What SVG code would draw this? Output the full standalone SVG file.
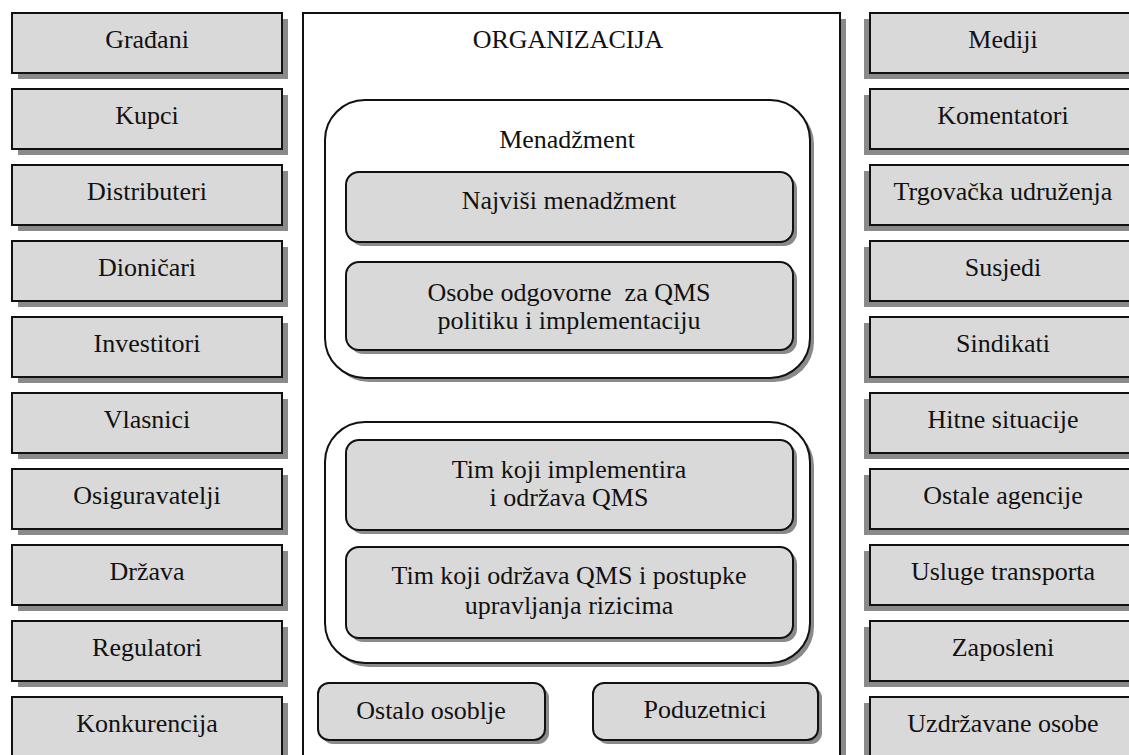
<svg xmlns="http://www.w3.org/2000/svg" width="1129" height="755" viewBox="0 0 1129 755" font-family="'Liberation Serif', 'DejaVu Serif', 'Times New Roman', serif">
<style>
text{font-family:'Liberation Serif','DejaVu Serif','Times New Roman',serif;font-size:26px;fill:#111;text-anchor:middle}
.box{fill:#d9d9d9;stroke:#111;stroke-width:2}
.sh{fill:#8a8a8a}
.frame{fill:#fff;stroke:#111;stroke-width:2}
</style>
<rect width="1129" height="755" fill="#fff"/>
<g id="left">
<g id="n-gradjani"><rect class="sh" x="18" y="19" width="270" height="60"/><rect class="box" x="12" y="13" width="270" height="60"/><text x="147" y="48">Građani</text></g>
<g id="n-kupci"><rect class="sh" x="18" y="95" width="270" height="60"/><rect class="box" x="12" y="89" width="270" height="60"/><text x="147" y="124">Kupci</text></g>
<g id="n-distributeri"><rect class="sh" x="18" y="171" width="270" height="60"/><rect class="box" x="12" y="165" width="270" height="60"/><text x="147" y="200">Distributeri</text></g>
<g id="n-dionicari"><rect class="sh" x="18" y="247" width="270" height="60"/><rect class="box" x="12" y="241" width="270" height="60"/><text x="147" y="276">Dioničari</text></g>
<g id="n-investitori"><rect class="sh" x="18" y="323" width="270" height="60"/><rect class="box" x="12" y="317" width="270" height="60"/><text x="147" y="352">Investitori</text></g>
<g id="n-vlasnici"><rect class="sh" x="18" y="399" width="270" height="60"/><rect class="box" x="12" y="393" width="270" height="60"/><text x="147" y="428">Vlasnici</text></g>
<g id="n-osiguravatelji"><rect class="sh" x="18" y="475" width="270" height="60"/><rect class="box" x="12" y="469" width="270" height="60"/><text x="147" y="504">Osiguravatelji</text></g>
<g id="n-drzava"><rect class="sh" x="18" y="551" width="270" height="60"/><rect class="box" x="12" y="545" width="270" height="60"/><text x="147" y="580">Država</text></g>
<g id="n-regulatori"><rect class="sh" x="18" y="627" width="270" height="60"/><rect class="box" x="12" y="621" width="270" height="60"/><text x="147" y="656">Regulatori</text></g>
<g id="n-konkurencija"><rect class="sh" x="18" y="703" width="270" height="60"/><rect class="box" x="12" y="697" width="270" height="60"/><text x="147" y="732">Konkurencija</text></g>
</g>
<g id="right">
<g id="n-mediji"><rect class="sh" x="864" y="19" width="270" height="60"/><rect class="box" x="870" y="13" width="270" height="60"/><text x="1003" y="48">Mediji</text></g>
<g id="n-komentatori"><rect class="sh" x="864" y="95" width="270" height="60"/><rect class="box" x="870" y="89" width="270" height="60"/><text x="1003" y="124">Komentatori</text></g>
<g id="n-trgovacka"><rect class="sh" x="864" y="171" width="270" height="60"/><rect class="box" x="870" y="165" width="270" height="60"/><text x="1003" y="200">Trgovačka udruženja</text></g>
<g id="n-susjedi"><rect class="sh" x="864" y="247" width="270" height="60"/><rect class="box" x="870" y="241" width="270" height="60"/><text x="1003" y="276">Susjedi</text></g>
<g id="n-sindikati"><rect class="sh" x="864" y="323" width="270" height="60"/><rect class="box" x="870" y="317" width="270" height="60"/><text x="1003" y="352">Sindikati</text></g>
<g id="n-hitne"><rect class="sh" x="864" y="399" width="270" height="60"/><rect class="box" x="870" y="393" width="270" height="60"/><text x="1003" y="428">Hitne situacije</text></g>
<g id="n-ostale"><rect class="sh" x="864" y="475" width="270" height="60"/><rect class="box" x="870" y="469" width="270" height="60"/><text x="1003" y="504">Ostale agencije</text></g>
<g id="n-usluge"><rect class="sh" x="864" y="551" width="270" height="60"/><rect class="box" x="870" y="545" width="270" height="60"/><text x="1003" y="580">Usluge transporta</text></g>
<g id="n-zaposleni"><rect class="sh" x="864" y="627" width="270" height="60"/><rect class="box" x="870" y="621" width="270" height="60"/><text x="1003" y="656">Zaposleni</text></g>
<g id="n-uzdrzavane"><rect class="sh" x="864" y="703" width="270" height="60"/><rect class="box" x="870" y="697" width="270" height="60"/><text x="1003" y="732">Uzdržavane osobe</text></g>
</g>
<g id="n-organizacija">
<rect class="sh" x="309" y="19" width="537" height="760"/>
<rect class="frame" x="303" y="13" width="537" height="760"/>
<text x="568" y="48">ORGANIZACIJA</text>
</g>
<g id="n-menadzment">
<rect class="sh" x="329" y="104" width="485" height="278" rx="40"/>
<rect class="frame" x="325" y="100" width="485" height="278" rx="40"/>
<text x="567" y="148">Menadžment</text>
</g>
<g id="n-najvisi">
<rect class="sh" x="350" y="176" width="447" height="70" rx="13"/>
<rect class="box" x="346" y="172" width="447" height="70" rx="13"/>
<text x="569" y="209">Najviši menadžment</text>
</g>
<g id="n-osobe">
<rect class="sh" x="350" y="266" width="447" height="88" rx="13"/>
<rect class="box" x="346" y="262" width="447" height="88" rx="13"/>
<text x="569" y="301" xml:space="preserve">Osobe odgovorne  za QMS</text>
<text x="569" y="329">politiku i implementaciju</text>
</g>
<g id="n-timovi">
<rect class="sh" x="329" y="426" width="485" height="241" rx="40"/>
<rect class="frame" x="325" y="422" width="485" height="241" rx="40"/>
</g>
<g id="n-tim1">
<rect class="sh" x="350" y="444" width="447" height="90" rx="13"/>
<rect class="box" x="346" y="440" width="447" height="90" rx="13"/>
<text x="569" y="478">Tim koji implementira</text>
<text x="569" y="506">i održava QMS</text>
</g>
<g id="n-tim2">
<rect class="sh" x="350" y="551" width="447" height="91" rx="13"/>
<rect class="box" x="346" y="547" width="447" height="91" rx="13"/>
<text x="569" y="584">Tim koji održava QMS i postupke</text>
<text x="569" y="614">upravljanja rizicima</text>
</g>
<g id="n-ostalo">
<rect class="sh" x="322" y="687" width="227" height="57" rx="11"/>
<rect class="box" x="318" y="683" width="227" height="57" rx="11"/>
<text x="431" y="719">Ostalo osoblje</text>
</g>
<g id="n-poduzetnici">
<rect class="sh" x="597" y="687" width="225" height="57" rx="11"/>
<rect class="box" x="593" y="683" width="225" height="57" rx="11"/>
<text x="705" y="718">Poduzetnici</text>
</g>
<g id="connectors"></g>
</svg>
